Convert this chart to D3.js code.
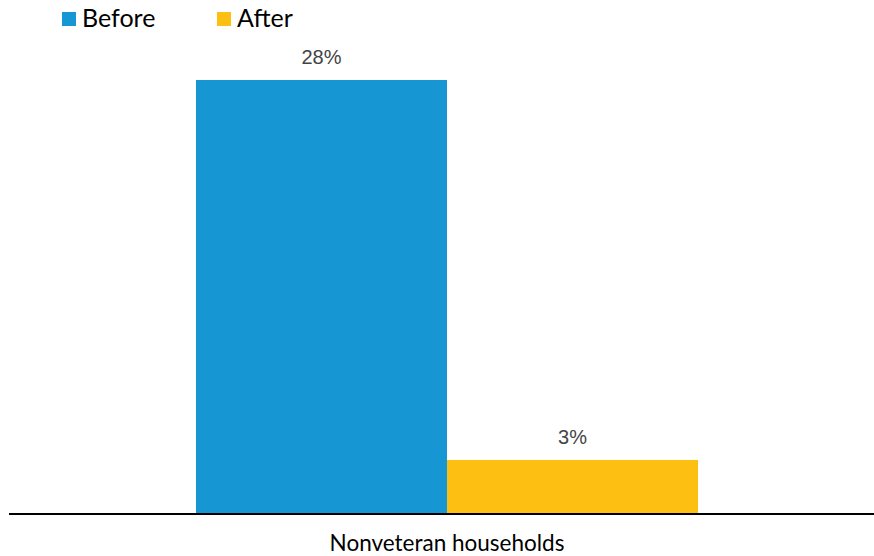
<!DOCTYPE html>
<html>
<head>
<meta charset="utf-8">
<script src="https://cdn.jsdelivr.net/npm/d3@7"></script>
<style>
html,body{margin:0;padding:0;background:#fff;}
svg{display:block;}
</style>
</head>
<body>
<svg id="chart" width="874" height="556"></svg>
<script>
const categories = ["Nonveteran households"];
const seriesNames = ["Before", "After"];
const seriesColors = ["#1696d2", "#fdbf11"];
const beforeValues = [28.0];
const afterValues = [3.43];

const W = 874, H = 556;
const margin = {top: 80, right: 0, bottom: 43, left: 9};
const svg = d3.select("#chart");

const baseline = H - margin.bottom;
const x0 = d3.scaleBand().domain(categories).range([20, W]).paddingInner(0).paddingOuter(0.3506);
const x1 = d3.scaleBand().domain(seriesNames).range([0, x0.bandwidth()]).padding(0);
const maxV = d3.max(beforeValues.concat(afterValues));
const y = d3.scaleLinear().domain([0, maxV]).range([baseline, margin.top]);

const rows = categories.map((c, i) => ({cat: c, vals: [beforeValues[i], afterValues[i]]}));

const g = svg.append("g");
rows.forEach(r => {
  r.vals.forEach((v, j) => {
    const xx = x0(r.cat) + x1(seriesNames[j]);
    g.append("rect")
      .attr("x", xx)
      .attr("y", y(v))
      .attr("width", x1.bandwidth())
      .attr("height", baseline - y(v))
      .attr("fill", seriesColors[j]);
    g.append("text")
      .attr("x", xx + x1.bandwidth() / 2)
      .attr("y", y(v) - 16)
      .attr("text-anchor", "middle")
      .attr("font-family", "Liberation Sans, Arial, sans-serif")
      .attr("font-size", 20)
      .attr("fill", "#444")
      .text(d3.format(".0f")(v) + "%");
  });
});

// axis
const xAxis = d3.axisBottom(x0).tickSize(0).tickPadding(22);
const ax = svg.append("g").attr("transform", `translate(0,${baseline})`).call(xAxis);
ax.select(".domain").attr("stroke", "#000").attr("stroke-width", 2).attr("d", `M${margin.left},1H${W}`);
ax.selectAll(".tick text")
  .attr("font-family", "Lato, sans-serif")
  .attr("font-size", 22.5)
  .attr("fill", "#000");

// legend
const legend = svg.append("g");
const legX = [62, 217];
seriesNames.forEach((s, i) => {
  legend.append("rect").attr("x", legX[i]).attr("y", 12).attr("width", 14).attr("height", 14).attr("fill", seriesColors[i]);
  legend.append("text").attr("x", legX[i] + 20).attr("y", 27)
    .attr("font-family", "Lato, sans-serif").attr("font-size", 25).attr("fill", "#000").text(s);
});
</script>
</body>
</html>
